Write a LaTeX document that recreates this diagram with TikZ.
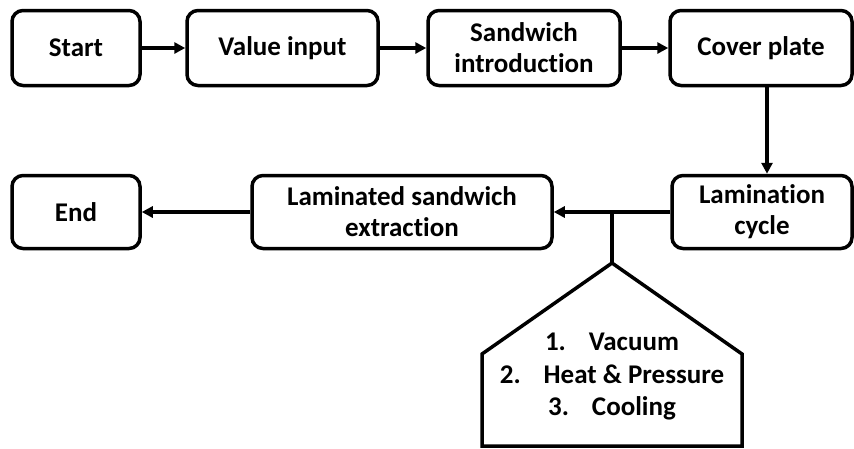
\documentclass[tikz,border=0pt]{standalone}
\usepackage{fontspec}
\setmainfont{Carlito}[Ligatures=NoCommon]
\usetikzlibrary{arrows.meta}
\begin{document}
\begin{tikzpicture}[x=1pt,y=-1pt,
  box/.style={draw,line width=3.5pt,rounded corners=11pt,minimum height=75pt,align=center,
    font=\fontsize{27}{31}\selectfont\bfseries,inner sep=0pt},
  conn/.style={line width=3.5pt},
  arr/.style={conn,-{Triangle[length=11pt,width=11pt]}}]
\useasboundingbox (0,0) rectangle (854,448);
\node[box,minimum width=128pt] (start) at (76,48) {Start};
\node[box,minimum width=191pt] (val) at (282.5,48) {Value input};
\node[box,minimum width=192pt] (sand) at (524,48) {Sandwich\\introduction};
\node[box,minimum width=182pt] (cover) at (761,48) {Cover plate};
\node[box,minimum width=180pt,minimum height=73pt] (lam) at (762,212) {Lamination\\cycle};
\node[box,minimum width=300pt,minimum height=73pt] (lsx) at (402,212) {Laminated sandwich\\extraction};
\node[box,minimum width=128pt,minimum height=73pt] (end) at (76,212) {End};
\draw[arr] (start) -- (val);
\draw[arr] (val) -- (sand);
\draw[arr] (sand) -- (cover);
\draw[arr] ([xshift=6pt]cover.south) -- ([xshift=6pt]cover.south |- lam.north);
\draw[arr] (lam) -- (lsx);
\draw[arr] (lsx) -- (end);
\coordinate (junc) at (612,212);
\coordinate (apex) at (612,263);
\draw[conn] (junc) -- (apex);
\draw[conn,line join=miter] (apex) -- (742,354) -- (742,446) -- (482,446) -- (482,354) -- cycle;
\node[align=center,font=\fontsize{27}{32.5}\selectfont\bfseries,inner sep=0pt] (steps) at (612,377)
  {1.\hspace{23pt}Vacuum\\2.\hspace{23pt}Heat \& Pressure\\3.\hspace{23pt}Cooling};
\end{tikzpicture}
\end{document}
